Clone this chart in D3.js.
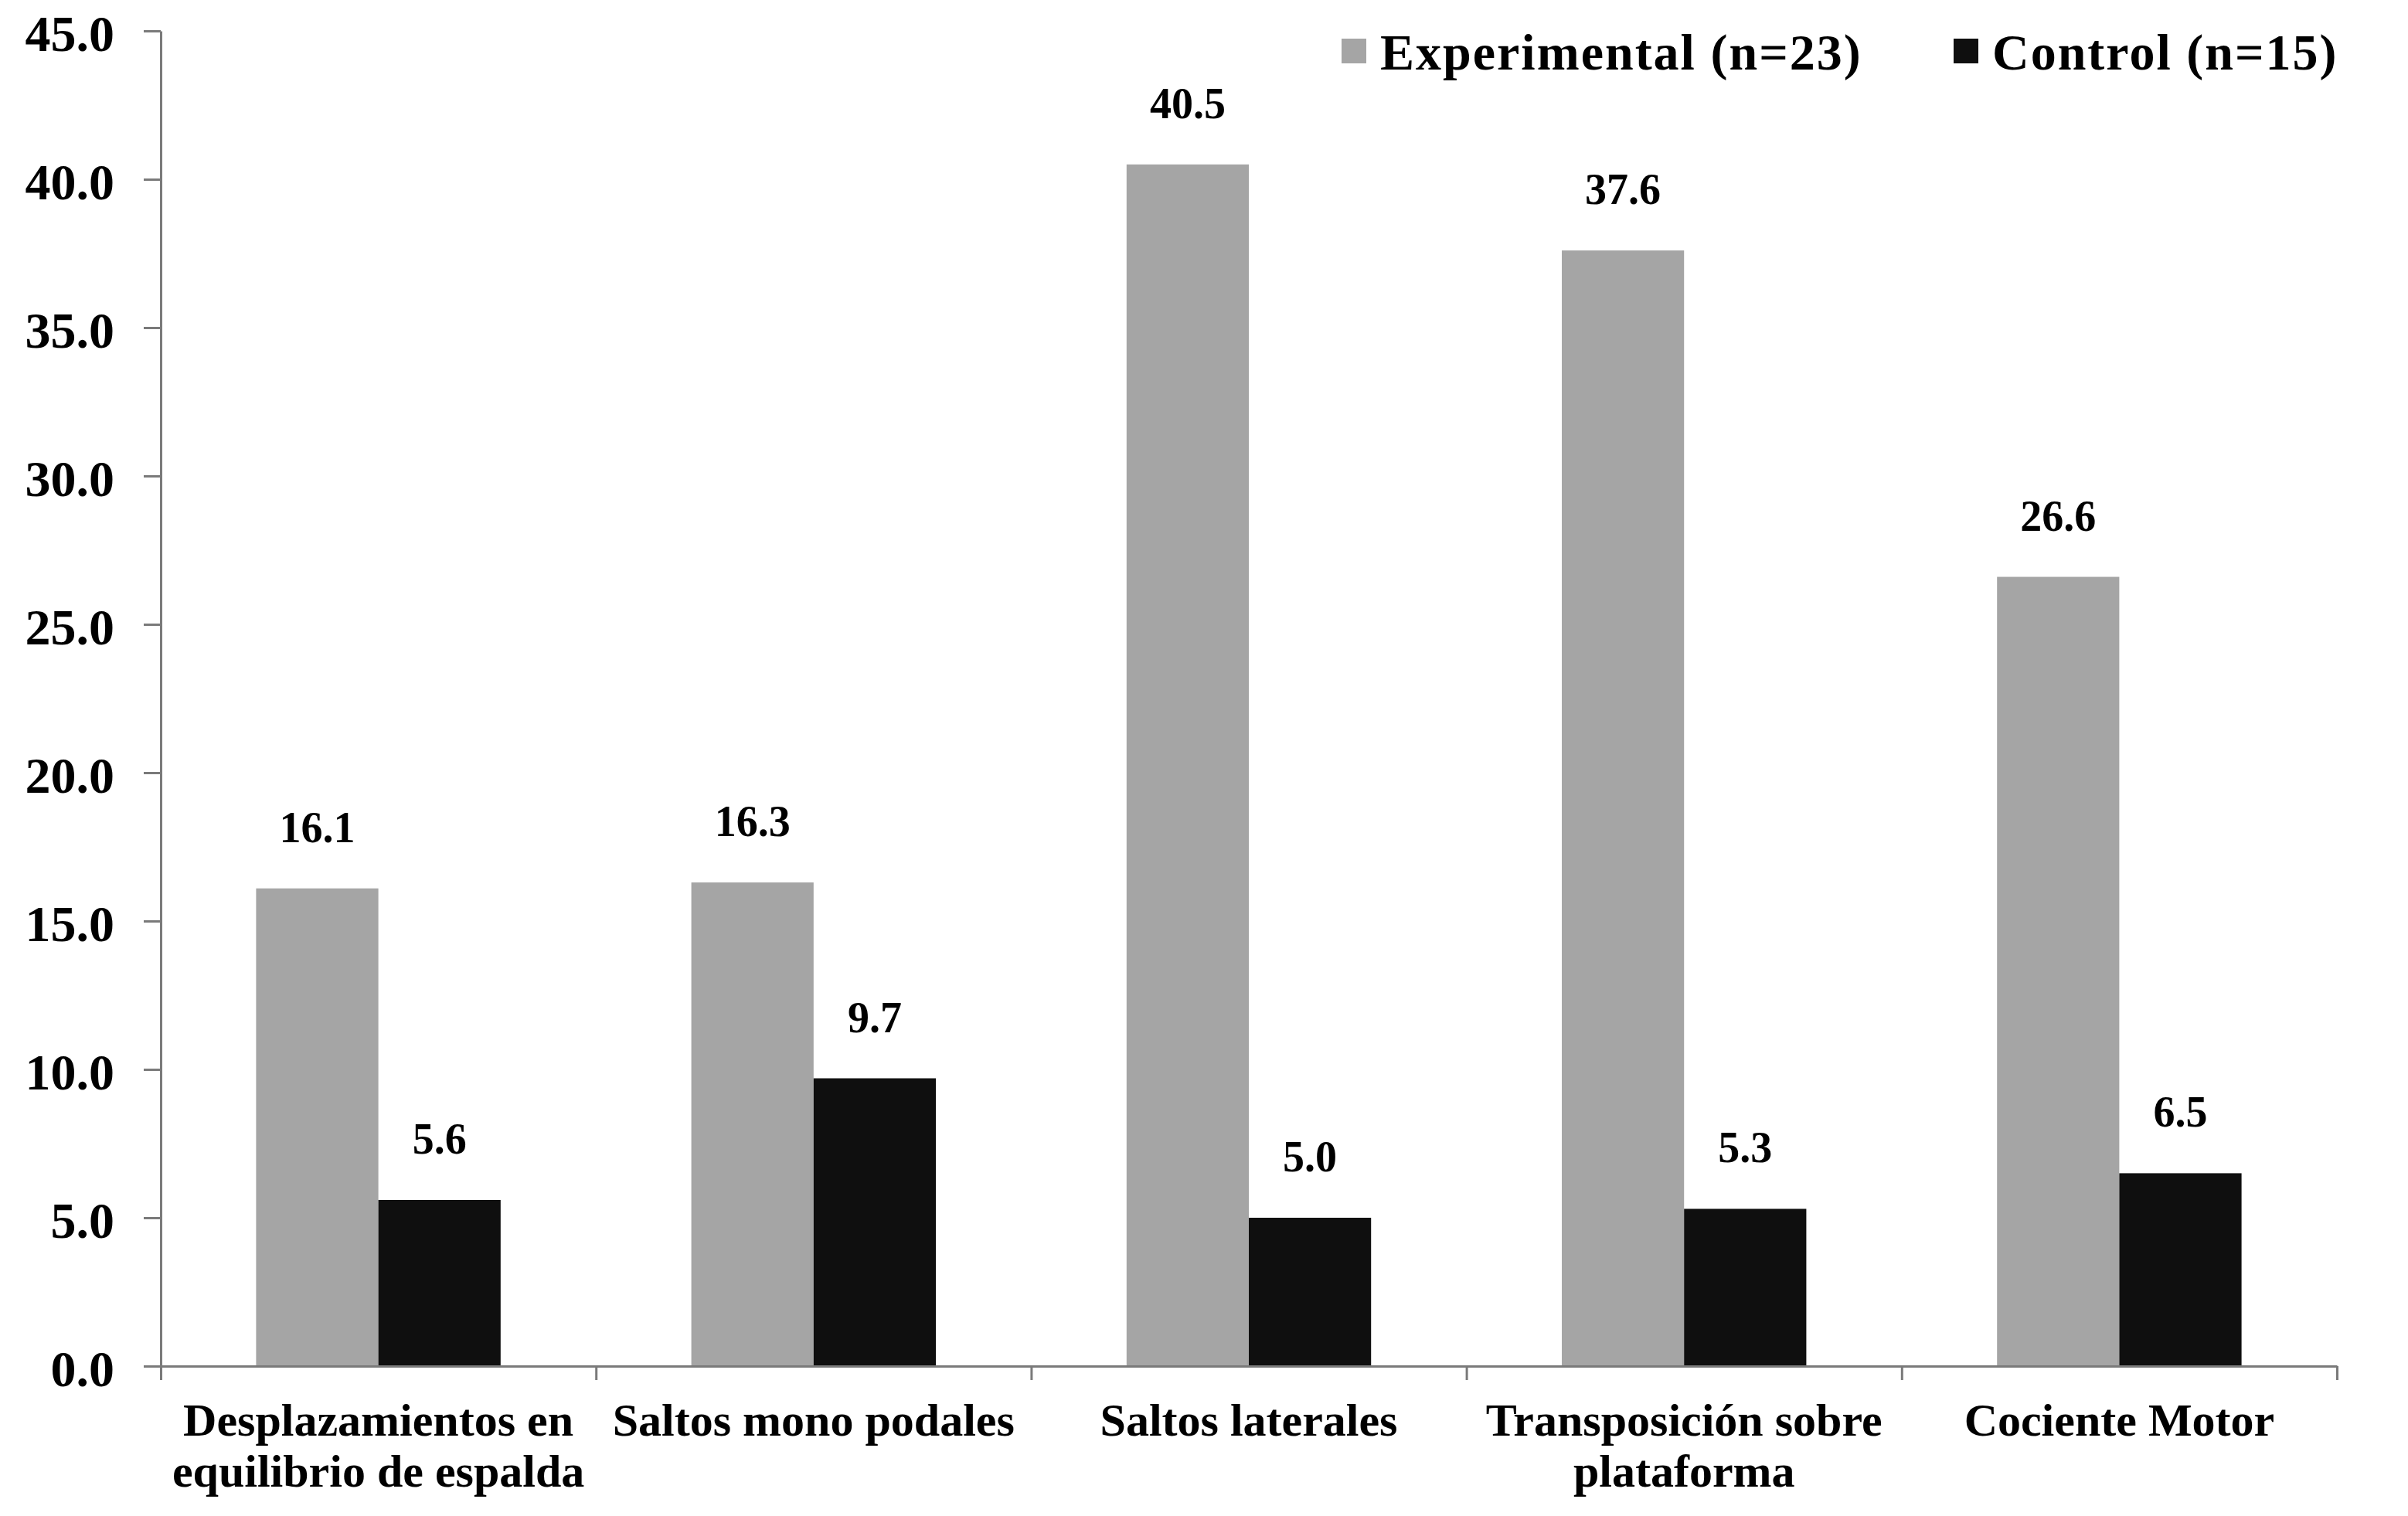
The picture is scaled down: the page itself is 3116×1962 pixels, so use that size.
<!DOCTYPE html>
<html>
<head>
<meta charset="utf-8">
<script src="https://cdn.jsdelivr.net/npm/d3@7"></script>
<style>
  body { margin: 0; background: #ffffff; }
  text { font-family: "Liberation Serif", "Times New Roman", serif; font-weight: bold; fill: #000; }
</style>
</head>
<body>
<script>
// dati
const categorie = ["Desplazamientos en|equilibrio de espalda", "Saltos mono podales", "Saltos laterales", "Transposición sobre|plataforma", "Cociente Motor"];
const serie = ["Experimental (n=23)", "Control (n=15)"];
const sperimentale = [16.1, 16.3, 40.5, 37.6, 26.6];
const controllo = [5.6, 9.7, 5.0, 5.3, 6.5];
const yTicks = [0, 5, 10, 15, 20, 25, 30, 35, 40, 45];

const colori = ["#a5a5a5", "#0f0f0f"];

const width = 3116;
const height = 1962;
const margins = { left: 208, right: 92, top: 40, bottom: 194 };

const svg = d3.select("body")
    .append("svg")
    .attr("width", width)
    .attr("height", height)
    .style("background-color", "#ffffff");

// scale
const x0 = d3.scaleBand().domain(categorie).range([margins.left, width - margins.right]).padding(0);
const x1 = d3.scaleBand().domain(serie).range([0, x0.bandwidth()]).paddingInner(0).paddingOuter(0.78);
const y = d3.scaleLinear().domain([0, 45]).range([height - margins.bottom, margins.top]);
const xb = d3.scaleLinear().domain([0, categorie.length]).range([margins.left, width - margins.right]);

// barre
const gruppi = svg.append("g").selectAll("g")
    .data(categorie)
    .join("g")
    .attr("transform", d => "translate(" + x0(d) + ",0)");

gruppi.each(function(cat, i) {
    const valori = [sperimentale[i], controllo[i]];
    const g = d3.select(this);
    g.selectAll("rect")
        .data(serie)
        .join("rect")
        .attr("x", s => x1(s))
        .attr("y", (s, j) => y(valori[j]))
        .attr("width", x1.bandwidth())
        .attr("height", (s, j) => y(0) - y(valori[j]))
        .attr("fill", (s, j) => colori[j]);
    // etichette dei valori
    g.selectAll("text.valore")
        .data(serie)
        .join("text")
        .attr("class", "valore")
        .attr("x", s => x1(s) + x1.bandwidth() / 2)
        .attr("y", (s, j) => y(valori[j]) - 60)
        .attr("text-anchor", "middle")
        .style("font-size", "56px")
        .text((s, j) => valori[j].toFixed(1));
});

// asse y
const yAxis = svg.append("g")
    .attr("transform", "translate(" + margins.left + ",0)")
    .call(d3.axisLeft(y).tickValues(yTicks).tickFormat(d3.format(".1f")).tickSize(22).tickSizeOuter(0).tickPadding(38));
yAxis.selectAll("text").style("font-size", "66px").style("font-family", "Liberation Serif").attr("dy", "0.38em");
yAxis.selectAll("line, path").attr("stroke", "#7a7a7a").attr("stroke-width", 3);

// asse x con tacche tra le categorie
const xAxis = svg.append("g")
    .attr("transform", "translate(0," + y(0) + ")")
    .call(d3.axisBottom(xb).tickValues(d3.range(categorie.length + 1)).tickFormat("").tickSize(18).tickSizeOuter(0));
xAxis.selectAll("line, path").attr("stroke", "#7a7a7a").attr("stroke-width", 3);

// etichette categorie
categorie.forEach(cat => {
    const righe = cat.split("|");
    const t = svg.append("text")
        .attr("x", x0(cat) + x0.bandwidth() / 2)
        .attr("y", 1858)
        .attr("text-anchor", "middle")
        .style("font-size", "60px");
    righe.forEach((r, k) => {
        t.append("tspan")
            .attr("x", x0(cat) + x0.bandwidth() / 2)
            .attr("dy", k === 0 ? 0 : 66)
            .text(r);
    });
});

// legenda
const legendaX = [1736, 2528];
serie.forEach((s, i) => {
    svg.append("rect")
        .attr("x", legendaX[i])
        .attr("y", 50)
        .attr("width", 32)
        .attr("height", 32)
        .attr("fill", colori[i]);
    svg.append("text")
        .attr("x", legendaX[i] + 50)
        .attr("y", 90)
        .style("font-size", "66px")
        .style("letter-spacing", "2px")
        .text(s);
});
</script>
</body>
</html>
